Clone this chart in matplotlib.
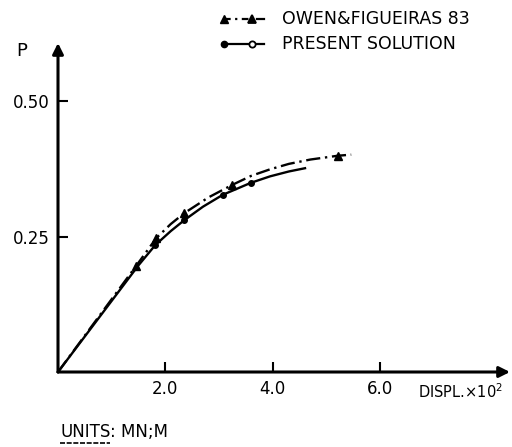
import matplotlib
matplotlib.use("Agg")
import matplotlib.pyplot as plt
from matplotlib.lines import Line2D

# ---- data ----
owen_x = [0, 1.45, 1.83, 2.1, 2.35, 2.8, 3.24, 3.6, 3.95, 4.3, 4.7, 5.21, 5.46]
owen_y = [0, 0.195, 0.247, 0.273, 0.293, 0.322, 0.345, 0.362, 0.374, 0.384,
          0.392, 0.399, 0.401]
owen_marks = [1, 2, 4, 6, 11]

present_x = [0, 1.5, 1.81, 2.1, 2.35, 2.7, 3.07, 3.59, 3.95, 4.3, 4.6]
present_y = [0, 0.197, 0.234, 0.26, 0.28, 0.305, 0.327, 0.349, 0.361, 0.37,
             0.376]
present_marks = [2, 4, 6, 7]

xticks = [2, 4, 6]
xticklabels = ["2.0", "4.0", "6.0"]
yticks = [0.25, 0.50]
yticklabels = ["0.25", "0.50"]

plt.rcParams['font.family'] = ['DejaVu Sans']

W, H = 512, 447
fig = plt.figure(figsize=(W / 100, H / 100), dpi=100)
x0, y0 = 58, 372          # origin pixel
xend, ytop = 510, 43      # arrow tips
ppx = 53.7                # pixels per x unit
ppy = 542.0               # pixels per y unit
ax = fig.add_axes([x0 / W, (H - y0) / H, (xend - x0) / W, (y0 - ytop) / H])
ax.set_xlim(0, (xend - x0) / ppx)
ax.set_ylim(0, (y0 - ytop) / ppy)
for s in ax.spines.values():
    s.set_visible(False)

# axes arrows
ax.annotate('', xy=(1, 0), xytext=(0, 0), xycoords='axes fraction',
            arrowprops=dict(arrowstyle='-|>', lw=2.2, color='black',
                            mutation_scale=16, shrinkA=0, shrinkB=0))
ax.annotate('', xy=(0, 1), xytext=(0, 0), xycoords='axes fraction',
            arrowprops=dict(arrowstyle='-|>', lw=2.2, color='black',
                            mutation_scale=16, shrinkA=0, shrinkB=0))

ax.set_xticks(xticks)
ax.set_xticklabels(xticklabels)
ax.set_yticks(yticks)
ax.set_yticklabels(yticklabels)
ax.tick_params(direction='in', length=7, width=1.5, labelsize=12, pad=6)

l1, = ax.plot(owen_x, owen_y, color='black', lw=1.7,
              linestyle=(0, (6, 2, 1, 2)), marker='^', markersize=6,
              markevery=owen_marks, clip_on=False,
              label='OWEN&FIGUEIRAS 83')
l2, = ax.plot(present_x, present_y, color='black', lw=1.7, linestyle='-',
              marker='o', markersize=4, markevery=present_marks,
              clip_on=False, label='PRESENT SOLUTION')

# legend (manual samples)
def legend_row(ypix, style, m1, m2, ms, text):
    xa, xb, xc = 224, 252, 264
    fy = (H - ypix) / H
    fig.add_artist(Line2D([xa / W, xb / W], [fy, fy], color='black', lw=1.6,
                          linestyle=style, transform=fig.transFigure))
    fig.add_artist(Line2D([(xb + 5) / W, xc / W], [fy, fy], color='black',
                          lw=1.6, transform=fig.transFigure))
    fig.add_artist(Line2D([xa / W], [fy], color='black', lw=0,
                          marker=m1, markersize=ms,
                          transform=fig.transFigure))
    fig.add_artist(Line2D([xb / W], [fy], color='black', lw=0,
                          marker=m2, markersize=ms, markerfacecolor='white'
                          if m2 == 'o' else 'black', markeredgewidth=1.3,
                          transform=fig.transFigure))
    fig.text(282 / W, fy, text, fontsize=12.5, va='center', ha='left')

legend_row(19, (0, (3, 2, 1, 2)), '^', '^', 6, 'OWEN&FIGUEIRAS 83')
legend_row(44, '-', 'o', 'o', 4.5, 'PRESENT SOLUTION')

fig.text(22 / W, (H - 51) / H, 'P', fontsize=13, ha='center', va='center')
fig.text(418 / W, (H - 392) / H, r'DISPL.$\times$10$^2$', fontsize=10.5,
         ha='left', va='center')

t_units = fig.text(60 / W, (H - 432) / H, 'UNITS', fontsize=12,
                   ha='left', va='center')
fig.canvas.draw()
bb = t_units.get_window_extent()
fig.text(bb.x1 / W, (H - 432) / H, ': MN;M', fontsize=12, ha='left',
         va='center')
uy = (bb.y0 - 2) / H
fig.add_artist(Line2D([bb.x0 / W, bb.x1 / W], [uy, uy], color='black',
                      lw=1.2, linestyle=(0, (3, 1)),
                      transform=fig.transFigure))

fig.savefig('out.png', dpi=100)
